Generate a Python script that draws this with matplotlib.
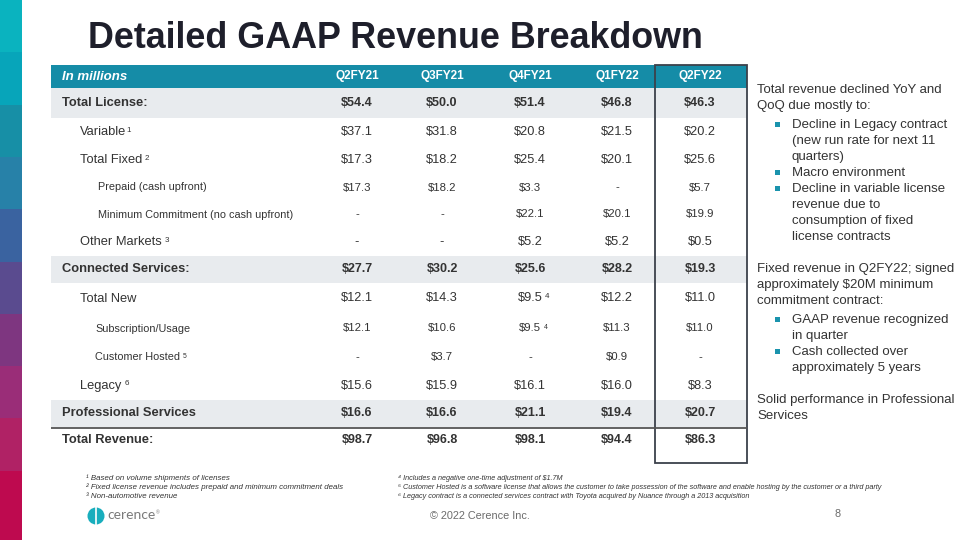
import matplotlib

matplotlib.use("Agg")
import matplotlib.pyplot as plt
from matplotlib.patches import Rectangle, Circle

plt.rcParams["font.family"] = ["Liberation Sans", "DejaVu Sans"]

TEAL = "#158ca7"
BAND = "#e8ebee"
TEXT = "#333333"
DARK = "#1e1f2b"
MUTED = "#6b6b6b"
BOX = "#3c414b"

STRIP = ["#0ab3bf", "#07a5ba", "#178fa6", "#2781a8", "#3a63a0",
         "#5a4b8f", "#7e3680", "#9a2d78", "#b02265", "#be0a4f"]

# table data
quarters = ["Q2FY21", "Q3FY21", "Q4FY21", "Q1FY22", "Q2FY22"]
row_labels = ["Total License:", "Variable", "Total Fixed", "Prepaid (cash upfront)",
              "Minimum Commitment (no cash upfront)", "Other Markets",
              "Connected Services:", "Total New", "Subscription/Usage",
              "Customer Hosted", "Legacy", "Professional Services", "Total Revenue:"]
row_notes = ["", "1", "2", "", "", "3", "", "", "", "5", "6", "", ""]
row_levels = [0, 1, 1, 2, 2, 1, 0, 1, 2, 2, 1, 0, 0]

q2fy21 = [54.4, 37.1, 17.3, 17.3, None, None, 27.7, 12.1, 12.1, None, 15.6, 16.6, 98.7]
q3fy21 = [50.0, 31.8, 18.2, 18.2, None, None, 30.2, 14.3, 10.6, 3.7, 15.9, 16.6, 96.8]
q4fy21 = [51.4, 20.8, 25.4, 3.3, 22.1, 5.2, 25.6, 9.5, 9.5, None, 16.1, 21.1, 98.1]
q1fy22 = [46.8, 21.5, 20.1, None, 20.1, 5.2, 28.2, 12.2, 11.3, 0.9, 16.0, 19.4, 94.4]
q2fy22 = [46.3, 20.2, 25.6, 5.7, 19.9, 0.5, 19.3, 11.0, 11.0, None, 8.3, 20.7, 86.3]
columns = [q2fy21, q3fy21, q4fy21, q1fy22, q2fy22]
value_notes = {(2, 7): "4", (2, 8): "4"}

commentary = [
    ("p", "Total revenue declined YoY and"),
    ("p", "QoQ due mostly to:"),
    ("b", "Decline in Legacy contract"),
    ("c", "(new run rate for next 11"),
    ("c", "quarters)"),
    ("b", "Macro environment"),
    ("b", "Decline in variable license"),
    ("c", "revenue due to"),
    ("c", "consumption of fixed"),
    ("c", "license contracts"),
    ("gap", ""),
    ("p", "Fixed revenue in Q2FY22; signed"),
    ("p", "approximately $20M minimum"),
    ("p", "commitment contract:"),
    ("b", "GAAP revenue recognized"),
    ("c", "in quarter"),
    ("b", "Cash collected over"),
    ("c", "approximately 5 years"),
    ("gap", ""),
    ("p", "Solid performance in Professional"),
    ("p", "Services"),
]

footnotes_left = [
    "\u00b9 Based on volume shipments of licenses",
    "\u00b2 Fixed license revenue includes prepaid and minimum commitment deals",
    "\u00b3 Non-automotive revenue",
]
footnotes_right = [
    "\u2074 Includes a negative one-time adjustment of $1.7M",
    "\u2075 Customer Hosted is a software license that allows the customer to take possession of the software and enable hosting by the customer or a third party",
    "\u2076 Legacy contract is a connected services contract with Toyota acquired by Nuance through a 2013 acquisition",
]


def fmt(v):
    return "-" if v is None else f"${v:.1f}"


fig = plt.figure(figsize=(9.6, 5.4), dpi=100, facecolor="white")
ax = fig.add_axes([0, 0, 1, 1])
ax.set_xlim(0, 960)
ax.set_ylim(540, 0)
ax.axis("off")

# left colour strip
n = len(STRIP)
for i, c in enumerate(STRIP):
    top = i * 52.3
    h = 52.3 if i < n - 1 else 540 - top
    ax.add_patch(Rectangle((0, top), 22, h, color=c, lw=0))

ax.text(88, 38, "Detailed GAAP Revenue Breakdown", fontsize=25.8, fontweight="bold",
        color=DARK, va="center", ha="left")

# table geometry
x0, x1 = 51, 747
col_x = [357, 442, 530, 617, 700]
head_top, head_bot = 65, 88
row_h = [30, 28, 28, 27, 27, 28, 27, 31, 29, 28, 29, 27, 26]
indent = [62, 80, 98]
sub_indent = {8: 95, 9: 95}
label_size = [9.3, 9.3, 7.8]
value_size = [9.0, 9.2, 8.2]

ax.add_patch(Rectangle((x0, head_top), x1 - x0, head_bot - head_top, color=TEAL, lw=0))
ax.text(62, (head_top + head_bot) / 2, "In millions", color="white", fontsize=9.5,
        fontweight="bold", fontstyle="italic", va="center")
for cx, q in zip(col_x, quarters):
    ax.text(cx, (head_top + head_bot) / 2, q, color="white", fontsize=8.5,
            fontweight="bold", ha="center", va="center")

y = head_bot
for i, label in enumerate(row_labels):
    h = row_h[i]
    yc = y + h / 2
    lvl = row_levels[i]
    last = i == len(row_labels) - 1
    if lvl == 0 and not last:
        ax.add_patch(Rectangle((x0, y), x1 - x0, h, color=BAND, lw=0))
    if last:
        ax.plot([x0, x1], [y + 1, y + 1], color="#555555", lw=1.3, solid_capstyle="butt")
    weight = "bold" if lvl == 0 else "normal"
    lx = sub_indent.get(i, indent[lvl])
    t = ax.text(lx, yc, label, fontsize=label_size[lvl], fontweight=weight, color=TEXT,
                va="center", ha="left")
    if row_notes[i]:
        gap = 0.3 if i == 1 else 2.0
        ax.annotate(row_notes[i], xy=(1, 0.95), xycoords=t, xytext=(gap, 0),
                    textcoords="offset points", fontsize=label_size[lvl] * 0.62,
                    color=TEXT, va="top", ha="left")
    for j, col in enumerate(columns):
        vt = ax.text(col_x[j], yc, fmt(col[i]), fontsize=value_size[lvl],
                     fontweight=weight, color=TEXT, ha="center", va="center")
        note = value_notes.get((j, i))
        if note:
            ax.annotate(note, xy=(1, 0.95), xycoords=vt, xytext=(2.0, 0),
                        textcoords="offset points", fontsize=value_size[lvl] * 0.62,
                        color=TEXT, va="top", ha="left")
    y += h

# highlight box around latest quarter
ax.add_patch(Rectangle((655, head_top), 92, 463 - head_top, fill=False,
                       edgecolor=BOX, lw=1.3))

# commentary on the right
cy = 90
prev = "p"
for kind, line in commentary:
    if kind == "gap":
        cy += 16
        prev = "gap"
        continue
    if kind == "b" and prev == "p":
        cy += 3
    if kind == "b":
        ax.add_patch(Rectangle((775, cy - 3.5), 5, 5, color="#1a93ad", lw=0))
    tx = 757 if kind == "p" else 792
    ax.text(tx, cy, line, fontsize=9.5, color=TEXT, va="center", ha="left")
    cy += 16
    prev = kind

# footnotes
for k, line in enumerate(footnotes_left):
    ax.text(86, 478 + k * 9.5, line, fontsize=5.7, fontstyle="italic", color=TEXT,
            va="center", ha="left")
for k, line in enumerate(footnotes_right):
    ax.text(398, 478 + k * 9.5, line, fontsize=5.2, fontstyle="italic", color=TEXT,
            va="center", ha="left")

# logo and footer
ax.add_patch(Circle((96, 516), 8.5, color="#19aebd", lw=0))
ax.plot([96, 96], [507, 525], color="white", lw=1.2)
logo = ax.text(107, 515, "cerence", fontsize=10, color="#7a7a7a", va="center",
               ha="left", family=["Lato", "DejaVu Sans"])
ax.annotate("\u00ae", xy=(1, 0.9), xycoords=logo, xytext=(0.8, 0),
            textcoords="offset points", fontsize=3.5, color="#7a7a7a",
            va="top", ha="left")
ax.text(480, 516, "\u00a9 2022 Cerence Inc.", fontsize=7.8, color=MUTED,
        ha="center", va="center")
ax.text(838, 514, "8", fontsize=7.8, color=MUTED, ha="center", va="center")

fig.savefig("out.png", dpi=100, facecolor="white")
